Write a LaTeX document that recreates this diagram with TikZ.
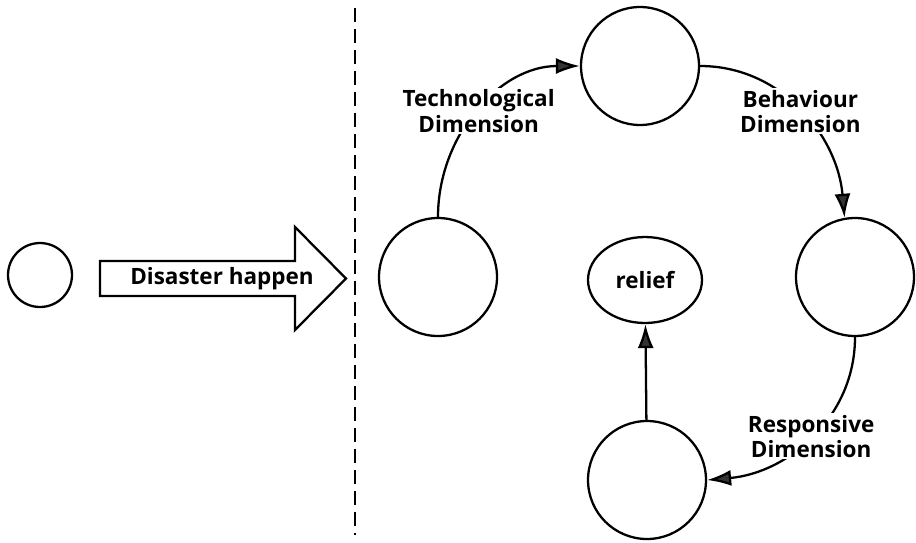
\documentclass[tikz,border=0pt]{standalone}
\usepackage{fontspec}
\setmainfont{Open Sans}
\usepackage{tikz}
\usetikzlibrary{arrows.meta}
\usetikzlibrary{shapes.geometric}

\begin{document}
\begin{tikzpicture}[
x=0.02cm, y=-0.02cm,
Stage/.style={draw,circle,line width=1.3pt,minimum size=2.36cm,inner sep=0pt},
Flow/.style={-{Latex[length=4.8mm, width=3.2mm, fill=black!80]}, line width=1.3pt},
DimLabel/.style={fill=white,align=center,inner sep=1pt},
every node/.style={font=\fontsize{12.8}{14.3}\selectfont\bfseries}
]
\useasboundingbox (0,0) rectangle (916,542);

% before the disaster
\node[draw,circle,line width=1.3pt,minimum size=1.28cm,inner sep=0pt] (Before) at (40,275) {};

% big arrow
\draw[line width=1.3pt,line join=miter] (100,261) -- (295,261) -- (295,227) -- (346,278.5)
  -- (295,330) -- (295,296) -- (100,296) -- cycle;
\node (Disaster) at (222,279) {Disaster happen};

% the dashed border
\coordinate (BorderTop) at (355,8);
\coordinate (BorderBot) at (355,535);
\draw[line width=1.5pt,dash pattern=on 0.28cm off 0.14cm] (BorderTop)--(BorderBot);

% the cycle after the disaster
\node[Stage] (Left) at (438,277) {};
\node[Stage] (Top) at (640,66) {};
\node[Stage] (Right) at (855,277) {};
\node[Stage] (Bottom) at (647,480) {};
\node[draw,ellipse,line width=1.3pt,minimum width=2.28cm,minimum height=1.72cm,inner sep=0pt] (Relief) at (645,280) {relief};

\draw[Flow] (Left.north) to[out=90,in=180]
  node[DimLabel,midway] (TechDim) {Technological\\Dimension} (Top.west);

\draw[Flow] (Top.east) to[out=0,in=95]
  node[DimLabel,midway] (BehavDim) {Behaviour\\Dimension} (Right.100);

\draw[Flow] (Right.south) to[out=-90,in=5]
  node[DimLabel,midway] (RespDim) {Responsive\\Dimension} (Bottom.east);

\draw[Flow] (Bottom)--(Relief);

\end{tikzpicture}
\end{document}
